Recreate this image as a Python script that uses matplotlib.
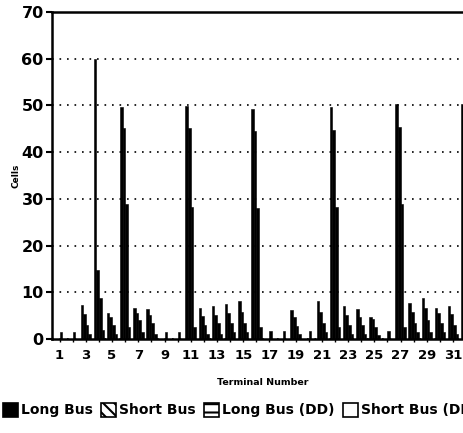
import numpy as np
import matplotlib
matplotlib.use("Agg")
from matplotlib import pyplot as plt
from matplotlib.patches import Patch

# cells per terminal, four bus configurations
terminals = list(range(1, 33))
long_bus = [0, 0, 7.3, 60, 5.5, 49.6, 6.6, 6.4, 0, 0, 49.8, 6.6, 7.1, 7.5, 8.1, 49.3,
            0, 0, 6.2, 0, 8.1, 49.6, 7.1, 6.4, 4.7, 0, 50.3, 7.6, 8.8, 6.7, 7.1, 50.3]
short_bus = [0, 0, 5.4, 14.8, 4.7, 45.1, 5.5, 5.1, 0, 0, 45.1, 4.9, 5.1, 5.6, 5.8, 44.6,
             0, 0, 4.7, 0, 5.8, 44.8, 5.1, 4.8, 4.2, 0, 45.3, 5.8, 6.6, 5.5, 5.3, 45.3]
long_bus_dd = [1.5, 1.5, 3, 8.8, 3, 29, 4, 3.5, 1.5, 1.5, 28.3, 3, 3.5, 3.5, 3.5, 28,
               1.7, 1.7, 2.8, 1.7, 3.5, 28.3, 3, 3, 2.5, 1.7, 28.8, 3.5, 4, 3.5, 3, 29]
short_bus_dd = [0, 0, 1, 2, 1, 2.5, 1.5, 1, 0, 0, 2.5, 1, 1, 1.5, 1.5, 2.5,
                0, 0, 1, 0, 1.5, 2.5, 1, 1, 0.8, 0, 2.5, 1.5, 1.5, 1.5, 1, 2.5]
series_names = ["Long Bus", "Short Bus", "Long Bus (DD)", "Short Bus (DD)"]
hatches = [None, "\\\\\\", "--", None]
fills = ["black", "white", "white", "white"]
tick_labels = [str(t) for t in terminals[::2]]

plt.rcParams["font.family"] = "DejaVu Sans"
plt.rcParams["font.weight"] = "bold"
plt.rcParams["hatch.linewidth"] = 1.5

fig = plt.figure(figsize=(4.64, 4.33), dpi=100)
ax = fig.add_axes([52 / 464, 94 / 433, 422 / 464, 327 / 433])

x = np.array(terminals, dtype=float)
w = 0.2
all_series = [long_bus, short_bus, long_bus_dd, short_bus_dd]
for i, vals in enumerate(all_series):
    ax.bar(x + (i - 1.5) * w, vals, width=w, color="black",
           edgecolor="black", linewidth=0.4)

ax.set_xlim(0.42, 32.6)
ax.set_ylim(0, 70)
ax.set_yticks(range(0, 71, 10))
ax.set_xticks(terminals, minor=True)
ax.set_xticks(terminals[::2])
ax.set_xticklabels(tick_labels, fontsize=9.5, fontweight="bold")
ax.tick_params(axis="y", labelsize=11.5, length=4, width=1.5, pad=2)
ax.tick_params(axis="x", which="both", length=2, width=1, pad=5)
for lbl in ax.get_yticklabels():
    lbl.set_fontweight("bold")

ax.grid(axis="y", color="black", linestyle=(0, (1, 3.5)), linewidth=1.2)
ax.set_axisbelow(True)
for s in ax.spines.values():
    s.set_linewidth(1.8)

ax.set_ylabel("Cells", fontsize=6.5, fontweight="bold", labelpad=1)
ax.set_xlabel("Terminal Number", fontsize=6.8, fontweight="bold", labelpad=12)

handles = [Patch(facecolor=f, edgecolor="black", hatch=h, linewidth=1.2)
           for f, h in zip(fills, hatches)]
fig.legend(handles, series_names, loc="center left", bbox_to_anchor=(0.0, 0.053),
           ncol=4, frameon=False, handlelength=1.1, handleheight=1.2,
           handletextpad=0.2, columnspacing=0.6, borderaxespad=0, borderpad=0.2,
           prop={"weight": "bold", "size": 10})

fig.savefig("out.png", dpi=100)
